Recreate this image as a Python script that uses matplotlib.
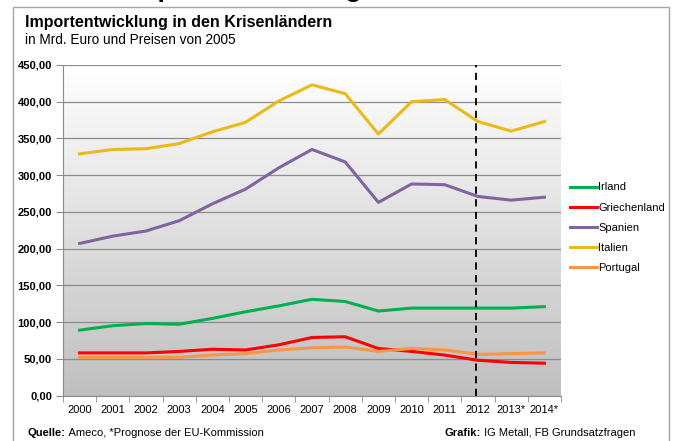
import numpy as np
import matplotlib
matplotlib.use('Agg')
import matplotlib.pyplot as plt
from matplotlib.patches import Rectangle

plt.rcParams['font.family'] = ['Liberation Sans', 'DejaVu Sans']

years = ['2000', '2001', '2002', '2003', '2004', '2005', '2006', '2007',
         '2008', '2009', '2010', '2011', '2012', '2013*', '2014*']

irland = [89, 95, 98, 97, 105, 114, 122, 131, 128, 115, 119, 119, 119, 119, 121]
griechenland = [58, 58, 58, 60, 63, 62, 69, 79, 80, 64, 60, 55, 48, 45, 44]
spanien = [207, 217, 224, 238, 261, 281, 310, 335, 318, 263, 288, 287, 271, 266, 270]
italien = [329, 335, 336, 343, 359, 372, 401, 423, 411, 356, 400, 403, 373, 360, 373]
portugal = [52, 52, 52, 52, 55, 57, 62, 65, 66, 60, 64, 62, 56, 57, 58]

series = [('Irland', irland, '#00b050'),
          ('Griechenland', griechenland, '#ff0000'),
          ('Spanien', spanien, '#8064a2'),
          ('Italien', italien, '#ebba17'),
          ('Portugal', portugal, '#f79646')]

fig = plt.figure(figsize=(6.8, 4.41), dpi=100)

# frame round the chart
fig.patches.append(Rectangle((13 / 680, -0.05), 656 / 680, 1.05 - 7 / 441,
                             transform=fig.transFigure, fill=False,
                             edgecolor='#a6a6a6', linewidth=1))

# cut-off heading above the frame
fig.text(30 / 680, 1 + 3 / 441, 'Abb. 3: Importentwicklung in Krisenländern',
         fontsize=19, fontweight='bold', va='baseline', ha='left')

ax = fig.add_axes([63 / 680, 1 - 395.5 / 441, 498 / 680, 330.5 / 441])

x = np.arange(len(years))
for name, vals, col in series:
    ax.plot(x, vals, color=col, linewidth=2.2, label=name, zorder=3)

ax.set_xlim(-0.5, len(years) - 0.5)
ax.set_ylim(0, 450)

# gradient background
grad = np.linspace(1, 0, 256).reshape(-1, 1)
top, bot = np.array([1.0, 1.0, 1.0]), np.array([0.75, 0.75, 0.75])
img = bot + (top - bot) * grad[..., None]
ax.imshow(img, extent=[-0.5, len(years) - 0.5, 0, 450], aspect='auto',
          zorder=0, origin='upper')

ax.set_yticks(np.arange(0, 451, 50))
ax.set_yticklabels([f'{v:.2f}'.replace('.', ',') for v in np.arange(0, 451, 50)],
                   fontsize=8, fontweight='bold')
ax.yaxis.grid(True, color='#8c8c8c', linewidth=0.9, zorder=1)
ax.set_axisbelow(False)

ax.set_xticks(x)
ax.set_xticklabels(years, fontsize=8)
ax.set_xticks(np.arange(-0.5, len(years), 1), minor=True)
ax.tick_params(axis='x', which='major', length=0, pad=7)
ax.tick_params(axis='x', which='minor', length=4, color='#8c8c8c')
ax.tick_params(axis='y', length=5, color='#8c8c8c', pad=3)

for s in ['top', 'right']:
    ax.spines[s].set_visible(False)
for s in ['left', 'bottom']:
    ax.spines[s].set_color('#8c8c8c')

ax.axvline(11.95, color='black', linestyle=(0, (4, 3)), linewidth=1.3, zorder=4)

leg = fig.legend(loc='upper left', bbox_to_anchor=(566 / 680, 1 - 178 / 441),
                 frameon=False, fontsize=8, handlelength=2.4, handletextpad=0.1,
                 labelspacing=0.92, borderaxespad=0)

fig.text(25 / 680, 1 - 22 / 441, 'Importentwicklung in den Krisenländern',
         fontsize=11.5, fontweight='bold', va='center')
fig.text(25 / 680, 1 - 40 / 441, 'in Mrd. Euro und Preisen von 2005',
         fontsize=9.8, va='center')

# footer: bold label followed by regular text
renderer = fig.canvas.get_renderer()
def footer(x0, bold, rest, align='left'):
    tb = fig.text(x0, 1 - 433 / 441, bold, fontsize=8, fontweight='bold', va='center')
    tr = fig.text(x0, 1 - 433 / 441, ' ' + rest, fontsize=8, va='center')
    wb = tb.get_window_extent(renderer).width / 680
    wr = tr.get_window_extent(renderer).width / 680
    if align == 'right':
        tb.set_x(x0 - wb - wr)
        tr.set_x(x0 - wr)
    else:
        tr.set_x(x0 + wb)

footer(28 / 680, 'Quelle:', 'Ameco, *Prognose der EU-Kommission')
footer(635 / 680, 'Grafik:', 'IG Metall, FB Grundsatzfragen', align='right')

fig.savefig('out.png', dpi=100)
